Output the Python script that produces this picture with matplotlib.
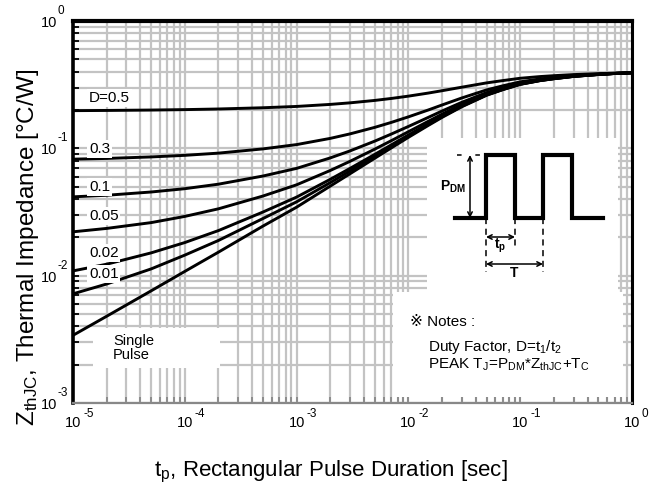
import numpy as np
import matplotlib
matplotlib.use('Agg')
import matplotlib.pyplot as plt
from matplotlib.transforms import Affine2D
from matplotlib.patches import Rectangle
from matplotlib.lines import Line2D

plt.rcParams['font.family'] = ['Liberation Sans', 'DejaVu Sans']
plt.rcParams['mathtext.fontset'] = 'custom'
plt.rcParams['mathtext.rm'] = 'Liberation Sans'
plt.rcParams['mathtext.it'] = 'Liberation Sans:italic'
plt.rcParams['mathtext.bf'] = 'Liberation Sans:bold'

# ---------------- data ----------------
t_sec = [1e-5, 2e-5, 5e-5, 1e-4, 2e-4, 5e-4, 1e-3, 2e-3, 3e-3, 5e-3, 7e-3,
         1e-2, 1.5e-2, 2e-2, 3e-2, 5e-2, 7e-2, 1e-1, 1.5e-1, 2e-1, 3e-1,
         5e-1, 7e-1, 1.0]
z_d050 = [.1977, .1984, .1998, .2014, .2037, .2083, .2133, .2213, .2276, .2378, .2463,
          .2570, .2715, .2835, .3020, .3265, .3405, .3550, .3660, .3720, .3795,
          .3860, .3895, .3920]
z_d030 = [.0822, .0833, .0856, .0881, .0917, .0990, .1070, .1197, .1298, .1461, .1596,
          .1767, .1998, .2190, .2485, .2875, .3098, .3329, .3505, .3600, .3720,
          .3824, .3879, .3919]
z_d010 = [.0416, .0428, .0454, .0482, .0523, .0606, .0696, .0841, .0954, .1139, .1292,
          .1485, .1747, .1964, .2297, .2739, .2992, .3253, .3452, .3560, .3695,
          .3813, .3876, .3921]
z_d005 = [.0221, .0235, .0261, .0292, .0335, .0422, .0517, .0670, .0790, .0985, .1146,
          .1350, .1627, .1855, .2207, .2674, .2940, .3216, .3426, .3540, .3683,
          .3807, .3873, .3921]
z_d002 = [.0109, .0123, .0151, .0182, .0226, .0316, .0414, .0571, .0695, .0896, .1062,
          .1273, .1557, .1793, .2156, .2636, .2911, .3196, .3411, .3529, .3676,
          .3804, .3872, .3922]
z_d001 = [.0072, .0086, .0113, .0145, .0189, .0281, .0380, .0538, .0663, .0866, .1033,
          .1246, .1533, .1771, .2137, .2622, .2899, .3186, .3404, .3523, .3671,
          .3800, .3869, .3919]
z_single = [.0034, .0048, .0076, .0108, .0153, .0245, .0345, .0505, .0631, .0836, .1005,
            .1220, .1510, .1750, .2120, .2610, .2890, .3180, .3400, .3520, .3670,
            .3800, .3870, .3920]

series = [z_d050, z_d030, z_d010, z_d005, z_d002, z_d001, z_single]
duty_labels = ['D=0.5', '0.3', '0.1', '0.05', '0.02', '0.01']
duty_label_y = [98, 149, 187, 216, 253, 274]   # pixel rows of the labels

x_ticks = [1e-5, 1e-4, 1e-3, 1e-2, 1e-1, 1e0]
x_exps = ['-5', '-4', '-3', '-2', '-1', '0']
y_ticks = [1e-3, 1e-2, 1e-1, 1e0]
y_exps = ['-3', '-2', '-1', '0']

# ---------------- figure ----------------
W, H = 653, 493
fig = plt.figure(figsize=(W / 100, H / 100), dpi=100)
L, R, T, B = 73, 632, 21, 403
ax = fig.add_axes([L / W, 1 - B / H, (R - L) / W, (B - T) / H])
ax.set_xscale('log')
ax.set_yscale('log')
ax.set_xlim(1e-5, 1)
ax.set_ylim(1e-3, 1)
ax.set_axisbelow(True)
ax.grid(which='both', color='#c3c3c3', lw=1.6)

px = Affine2D().scale(1 / W, -1 / H).translate(0, 1) + fig.transFigure

for z in series:
    ax.plot(t_sec, z, color='black', lw=2.1, zorder=3, solid_capstyle='butt')

for lab, yy in zip(duty_labels, duty_label_y):
    ax.text(89, yy, lab, transform=px, fontsize=11, ha='left', va='center',
            zorder=4, bbox=dict(boxstyle='square,pad=0.12', fc='white', ec='none'))

# spines / ticks
for s, lw, c in [('left', 2.6, 'black'), ('top', 3.0, 'black'),
                 ('right', 2.2, 'black'), ('bottom', 1.6, '#888888')]:
    ax.spines[s].set_linewidth(lw)
    ax.spines[s].set_color(c)
ax.tick_params(axis='y', which='both', direction='in', color='black',
               length=4, width=1.3, labelleft=False)
ax.tick_params(axis='x', which='both', direction='in', color='#888888',
               length=4, width=1.3, labelbottom=False)

# tick labels (10 with raised exponent)
for xt, e in zip(x_ticks, x_exps):
    ax.annotate('10', xy=(xt, 0), xycoords=('data', 'axes fraction'),
                xytext=(0, -20), textcoords='offset pixels',
                ha='center', va='center', fontsize=10.5, annotation_clip=False)
    ax.annotate(e, xy=(xt, 0), xycoords=('data', 'axes fraction'),
                xytext=(10, -11), textcoords='offset pixels',
                ha='left', va='center', fontsize=8.5, annotation_clip=False)
for yt, e in zip(y_ticks, y_exps):
    ax.annotate('10', xy=(0, yt), xycoords=('axes fraction', 'data'),
                xytext=(-16, -2), textcoords='offset pixels',
                ha='right', va='center', fontsize=10.5, annotation_clip=False)
    ax.annotate(e, xy=(0, yt), xycoords=('axes fraction', 'data'),
                xytext=(-15, 10), textcoords='offset pixels',
                ha='left', va='center', fontsize=8.5, annotation_clip=False)

# axis labels
fig.text(331 / W, 1 - 472 / H, r'$\mathregular{t_p}$, Rectangular Pulse Duration [sec]',
         ha='center', va='center', fontsize=16)
fig.text(28 / W, 1 - 247 / H, r'$\mathregular{Z_{thJC}}$, Thermal Impedance [°C/W]',
         ha='center', va='center', fontsize=17.5, rotation=90)

# white boxes
for (x0, y0, x1, y1) in [(427, 138, 618, 293), (393, 292, 623, 397), (93, 328, 220, 368)]:
    ax.add_patch(Rectangle((x0, y1), x1 - x0, y0 - y1, transform=px, fc='white',
                           ec='none', zorder=1.5, clip_on=False))

# pulse diagram
yl, yh = 218, 155
xs = [455, 486, 486, 515, 515, 543, 543, 572, 572, 603]
ys = [yl, yl, yh, yh, yl, yl, yh, yh, yl, yl]
ax.add_line(Line2D(xs, ys, transform=px, color='black', lw=3.0, zorder=5,
                   clip_on=False, solid_joinstyle='miter'))
for xd, ye in [(486, 272), (515, 248), (543, 272)]:
    ax.add_line(Line2D([xd, xd], [yl, ye], transform=px, color='black', lw=1.1,
                       ls=(0, (4, 3)), zorder=5, clip_on=False))
ax.add_line(Line2D([457, 486], [yh, yh], transform=px, color='black', lw=1.1,
                   ls=(0, (3, 9)), zorder=5, clip_on=False))
arrow = dict(arrowstyle='<->', lw=1.1, color='black', shrinkA=0, shrinkB=0,
             mutation_scale=8)
ax.annotate('', xy=(470, yh), xytext=(470, yl), xycoords=px, textcoords=px,
            arrowprops=arrow, zorder=5, annotation_clip=False)
ax.annotate('', xy=(486, 237), xytext=(515, 237), xycoords=px, textcoords=px,
            arrowprops=arrow, zorder=5, annotation_clip=False)
ax.annotate('', xy=(486, 264), xytext=(543, 264), xycoords=px, textcoords=px,
            arrowprops=arrow, zorder=5, annotation_clip=False)
ax.text(453, 187, r'$\mathbf{P_{DM}}$', transform=px, ha='center', va='center',
        fontsize=10, zorder=5)
ax.text(500, 246, r'$\mathbf{t_p}$', transform=px, ha='center', va='center',
        fontsize=10, zorder=5)
ax.text(514, 273, 'T', transform=px, ha='center', va='center', fontsize=10,
        fontweight='bold', zorder=5)

# notes
ax.text(410, 322, '※ Notes :', transform=px, ha='left', va='center', fontsize=11,
        zorder=5)
ax.text(428, 347, r'Duty Factor, D=t$_\mathregular{1}$/t$_\mathregular{2}$',
        transform=px, ha='left', va='center', fontsize=11, zorder=5)
ax.text(428, 365, r'PEAK T$_\mathregular{J}$=P$_\mathregular{DM}$*Z$_\mathregular{thJC}$+T$_\mathregular{C}$',
        transform=px, ha='left', va='center', fontsize=11, zorder=5)

# single pulse
ax.text(113, 348, 'Single\nPulse', transform=px, ha='left', va='center',
        fontsize=10.5, linespacing=1.05, zorder=5)

fig.savefig('out.png', dpi=100)
